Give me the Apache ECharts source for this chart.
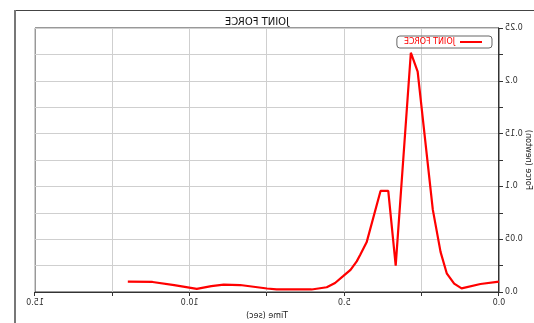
<!DOCTYPE html>
<html><head><meta charset="utf-8">
<script src="https://cdn.jsdelivr.net/npm/echarts@6/dist/echarts.min.js"></script>
<style>
html,body{margin:0;padding:0;background:#fff;overflow:hidden}
#c{width:534px;height:323px;transform:scaleX(-1);transform-origin:center}
</style></head>
<body><div id="c"></div>
<script>
var chartTitle = 'JOINT FORCE';
var seriesName = 'JOINT FORCE';
var xAxisName = 'Time (sec)';
var yAxisName = 'Force (newton)';
var times  = [0.0, 0.6, 1.21, 1.45, 1.69, 1.89, 2.14, 2.63, 2.85, 3.34, 3.58, 3.83, 4.28, 4.49, 4.6, 4.8, 5.03, 5.3, 5.57, 6.06, 7.19, 7.5, 8.37, 8.9, 9.3, 9.77, 10.5, 11.2, 12.0];
var forces = [0.0098, 0.0076, 0.0035, 0.008, 0.0177, 0.038, 0.078, 0.2086, 0.2266, 0.025, 0.0957, 0.0957, 0.047, 0.035, 0.029, 0.021, 0.0152, 0.0085, 0.0045, 0.0024, 0.0024, 0.0033, 0.0066, 0.007, 0.0055, 0.003, 0.0065, 0.0095, 0.0098];
var xMin = 0, xMax = 15, xStep = 2.5;
var yMin = 0, yMax = 0.25, yStep = 0.025;

var data = times.map(function(t, i){ return [t, forces[i]]; });
var chart = echarts.init(document.getElementById('c'), null, {renderer:'canvas'});
chart.setOption({
  animation: false,
  backgroundColor: '#fff',
  title: { text: chartTitle, left: 272, top: 12, textAlign: 'center',
    textStyle: { fontSize: 10, fontWeight: 'normal', color: '#111', fontFamily: 'DejaVu Sans' } },
  legend: { data: [seriesName], left: 42, top: 36, orient: 'horizontal',
    icon: 'rect', itemWidth: 22, itemHeight: 2, itemGap: 4,
    padding: [2, 7, 2, 10], borderColor: '#666', borderWidth: 1, borderRadius: 3,
    textStyle: { color: '#ff0000', fontSize: 8, fontFamily: 'DejaVu Sans' } },
  graphic: [
    { type: 'line', shape: { x1: -5, y1: 10.5, x2: 519, y2: 10.5 }, style: { stroke: '#444', lineWidth: 1 } },
    { type: 'line', shape: { x1: 519, y1: 10, x2: 519, y2: 330 }, style: { stroke: '#777', lineWidth: 2 } }
  ],
  grid: { left: 35, right: 35, top: 28, bottom: 31, show: true, borderColor: '#333', borderWidth: 1,
    containLabel: false, outerBoundsMode: 'none' },
  xAxis: { type: 'value', min: xMin, max: xMax, interval: xStep,
    name: xAxisName, nameLocation: 'middle', nameGap: 20, nameMoveOverlap: false,
    nameTextStyle: { fontSize: 8, color: '#222', fontFamily: 'DejaVu Sans' },
    axisLine: { show: true, onZero: false, lineStyle: { color: '#333' } },
    axisTick: { show: true, length: 4, lineStyle: { color: '#333' } },
    axisLabel: { fontSize: 8, color: '#333', margin: 7, fontFamily: 'DejaVu Sans',
      formatter: function(v){ return (Math.round(v*10) % 50 === 0) ? v.toFixed(1) : ''; } },
    splitLine: { show: true, lineStyle: { color: '#cfcfcf' } } },
  yAxis: { type: 'value', min: yMin, max: yMax, interval: yStep,
    name: yAxisName, nameLocation: 'middle', nameGap: 25, nameRotate: 90, nameMoveOverlap: false,
    nameTextStyle: { fontSize: 8, color: '#222', fontFamily: 'DejaVu Sans' },
    axisLine: { show: true, lineStyle: { color: '#333' } },
    axisTick: { show: true, length: 4, lineStyle: { color: '#333' } },
    axisLabel: { fontSize: 8, color: '#333', margin: 6, fontFamily: 'DejaVu Sans',
      formatter: function(v){ var k = Math.round(v/0.025); if (k % 2) return ''; if (k === 0) return '0.0'; return String(parseFloat(v.toFixed(3))); } },
    splitLine: { show: true, lineStyle: { color: '#cfcfcf' } } },
  series: [{ name: seriesName, type: 'line', data: data, symbol: 'none',
    lineStyle: { color: '#ff0000', width: 2.2 }, itemStyle: { color: '#ff0000' } }]
});
</script></body></html>
